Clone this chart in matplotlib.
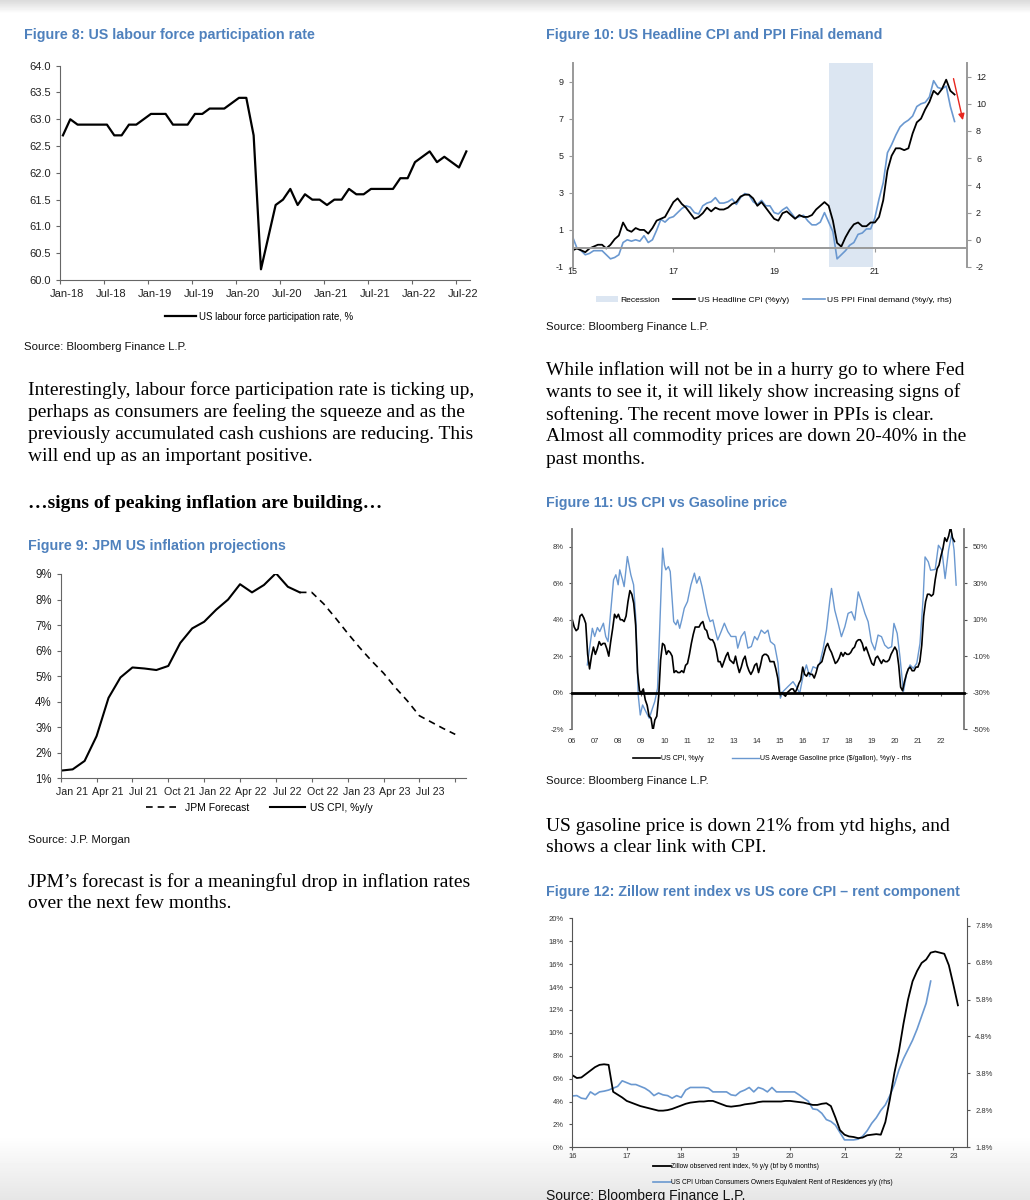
import numpy as np
import matplotlib
matplotlib.use('Agg')
import matplotlib.pyplot as plt
from matplotlib import font_manager
from matplotlib.lines import Line2D
from matplotlib.patches import Patch
from matplotlib.ticker import FormatStrFormatter
from matplotlib.transforms import ScaledTranslation

# ---------------- data ----------------
# Figure 8: labour force participation rate, monthly Jan-18 .. Aug-22
lfpr = [62.7, 63.0, 62.9, 62.9, 62.9, 62.9, 62.9, 62.7, 62.7, 62.9, 62.9, 63.0,
        63.1, 63.1, 63.1, 62.9, 62.9, 62.9, 63.1, 63.1, 63.2, 63.2, 63.2, 63.3,
        63.4, 63.4, 62.7, 60.2, 60.8, 61.4, 61.5, 61.7, 61.4, 61.6, 61.5, 61.5,
        61.4, 61.5, 61.5, 61.7, 61.6, 61.6, 61.7, 61.7, 61.7, 61.7, 61.9, 61.9,
        62.2, 62.3, 62.4, 62.2, 62.3, 62.2, 62.1, 62.4]
lfpr_ticklabels = ['Jan-18', 'Jul-18', 'Jan-19', 'Jul-19', 'Jan-20',
                   'Jul-20', 'Jan-21', 'Jul-21', 'Jan-22', 'Jul-22']

# Figure 10: headline CPI (lhs) and PPI final demand (rhs), monthly from Jan-15
cpi_15 = [-0.1, 0.0, -0.1, -0.2, 0.0, 0.1, 0.2, 0.2, 0.0, 0.2, 0.5, 0.7,
          1.4, 1.0, 0.9, 1.1, 1.0, 1.0, 0.8, 1.1, 1.5, 1.6, 1.7, 2.1,
          2.5, 2.7, 2.4, 2.2, 1.9, 1.6, 1.7, 1.9, 2.2, 2.0, 2.2, 2.1,
          2.1, 2.2, 2.4, 2.5, 2.8, 2.9, 2.9, 2.7, 2.3, 2.5, 2.2, 1.9,
          1.6, 1.5, 1.9, 2.0, 1.8, 1.6, 1.8, 1.7, 1.7, 1.8, 2.1, 2.3,
          2.5, 2.3, 1.5, 0.3, 0.1, 0.6, 1.0, 1.3, 1.4, 1.2, 1.2, 1.4,
          1.4, 1.7, 2.6, 4.2, 5.0, 5.4, 5.4, 5.3, 5.4, 6.2, 6.8, 7.0,
          7.5, 7.9, 8.5, 8.3, 8.6, 9.1, 8.5, 8.3]
ppi_15 = [0.2, -0.6, -0.8, -1.1, -1.0, -0.8, -0.8, -0.8, -1.1, -1.4, -1.3, -1.1,
          -0.2, 0.0, -0.1, 0.0, -0.1, 0.3, -0.2, 0.0, 0.7, 1.5, 1.3, 1.6,
          1.7, 2.0, 2.3, 2.5, 2.4, 2.0, 1.9, 2.5, 2.7, 2.8, 3.1, 2.7,
          2.7, 2.8, 3.0, 2.6, 3.1, 3.4, 3.3, 2.8, 2.6, 2.9, 2.5, 2.5,
          2.0, 1.9, 2.2, 2.4, 2.0, 1.6, 1.7, 1.8, 1.4, 1.1, 1.1, 1.3,
          2.0, 1.3, 0.6, -1.4, -1.1, -0.8, -0.4, -0.2, 0.4, 0.5, 0.8, 0.8,
          1.6, 3.0, 4.2, 6.4, 7.0, 7.7, 8.3, 8.6, 8.8, 9.1, 9.8, 10.0,
          10.1, 10.5, 11.7, 11.2, 11.1, 11.3, 9.8, 8.7]
recession = (2020.08, 2020.96)

# Figure 9: JPM US inflation projections (monthly index from chart start)
jpm_ticklabels = ['Jan 21', 'Apr 21', 'Jul 21', 'Oct 21', 'Jan 22', 'Apr 22',
                  'Jul 22', 'Oct 22', 'Jan 23', 'Apr 23', 'Jul 23']
cpi_actual = [1.3, 1.35, 1.68, 2.65, 4.15, 4.95, 5.34, 5.3, 5.24, 5.4, 6.3,
              6.87, 7.13, 7.6, 8.0, 8.6, 8.28, 8.57, 9.03, 8.5, 8.28]
jpm_forecast = [8.28, 8.28, 7.83, 7.27, 6.68, 6.12, 5.6, 5.12, 4.55, 4.03,
                3.45, 3.2, 2.95, 2.72]

# Figure 11: US CPI y/y monthly from Jan-06 (lhs) and gasoline y/y (rhs)
cpi_06 = [4.0, 3.6, 3.4, 3.5, 4.2, 4.3, 4.1, 3.8, 2.1, 1.3, 2.0, 2.5,
          2.1, 2.4, 2.8, 2.6, 2.7, 2.7, 2.4, 2.0, 2.8, 3.5, 4.3, 4.1,
          4.3, 4.0, 4.0, 3.9, 4.2, 5.0, 5.6, 5.4, 4.9, 3.7, 1.1, 0.1,
          0.0, 0.2, -0.4, -0.7, -1.3, -1.4, -2.1, -1.5, -1.3, -0.2, 1.8, 2.7,
          2.6, 2.1, 2.3, 2.2, 2.0, 1.1, 1.2, 1.1, 1.1, 1.2, 1.1, 1.5,
          1.6, 2.1, 2.7, 3.2, 3.6, 3.6, 3.6, 3.8, 3.9, 3.5, 3.4, 3.0,
          2.9, 2.9, 2.7, 2.3, 1.7, 1.7, 1.4, 1.7, 2.0, 2.2, 1.8, 1.7,
          1.6, 2.0, 1.5, 1.1, 1.4, 1.8, 2.0, 1.5, 1.2, 1.0, 1.2, 1.5,
          1.6, 1.1, 1.5, 2.0, 2.1, 2.1, 2.0, 1.7, 1.7, 1.7, 1.3, 0.8,
          -0.1, 0.0, -0.1, -0.2, 0.0, 0.1, 0.2, 0.2, 0.0, 0.2, 0.5, 0.7,
          1.4, 1.0, 0.9, 1.1, 1.0, 1.0, 0.8, 1.1, 1.5, 1.6, 1.7, 2.1,
          2.5, 2.7, 2.4, 2.2, 1.9, 1.6, 1.7, 1.9, 2.2, 2.0, 2.2, 2.1,
          2.1, 2.2, 2.4, 2.5, 2.8, 2.9, 2.9, 2.7, 2.3, 2.5, 2.2, 1.9,
          1.6, 1.5, 1.9, 2.0, 1.8, 1.6, 1.8, 1.7, 1.7, 1.8, 2.1, 2.3,
          2.5, 2.3, 1.5, 0.3, 0.1, 0.6, 1.0, 1.3, 1.4, 1.2, 1.2, 1.4,
          1.4, 1.7, 2.6, 4.2, 5.0, 5.4, 5.4, 5.3, 5.4, 6.2, 6.8, 7.0,
          7.5, 7.9, 8.5, 8.3, 8.6, 9.1, 8.5, 8.3]
gas_dates = [2006.65, 2006.87, 2006.97, 2007.09, 2007.19, 2007.35, 2007.45, 2007.55,
             2007.79, 2007.89, 2007.99, 2008.06, 2008.18, 2008.25, 2008.39, 2008.54,
             2008.66, 2008.76, 2008.86, 2008.95, 2009.05, 2009.19, 2009.34, 2009.48,
             2009.58, 2009.70, 2009.92, 2010.0, 2010.06, 2010.17, 2010.25, 2010.40,
             2010.5, 2010.57, 2010.66, 2010.75, 2010.86, 2011.0, 2011.15, 2011.3,
             2011.4, 2011.52, 2011.63, 2011.73, 2011.88, 2011.98, 2012.1, 2012.2,
             2012.31, 2012.46, 2012.6, 2012.75, 2012.89, 2013.1, 2013.18, 2013.33,
             2013.48, 2013.62, 2013.77, 2013.91, 2014.03, 2014.2, 2014.35, 2014.49,
             2014.6, 2014.78, 2014.93, 2015.03, 2015.14, 2015.36, 2015.58, 2015.72,
             2015.87, 2016.01, 2016.16, 2016.3, 2016.45, 2016.6, 2016.74, 2016.89,
             2017.03, 2017.18, 2017.25, 2017.39, 2017.54, 2017.68, 2017.83, 2017.97,
             2018.12, 2018.26, 2018.41, 2018.55, 2018.7, 2018.84, 2018.98, 2019.13,
             2019.27, 2019.42, 2019.56, 2019.71, 2019.86, 2019.96, 2020.1, 2020.22,
             2020.37, 2020.51, 2020.66, 2020.8, 2020.95, 2021.09, 2021.23, 2021.31,
             2021.45, 2021.55, 2021.75, 2021.89, 2022.04, 2022.18, 2022.33, 2022.47,
             2022.57, 2022.66]
gas_yoy = [-14.8, 5.3, 0.8, 5.7, 3.5, 8.1, 0.8, -2.0,
           31.9, 34.7, 29.2, 37.4, 31.9, 28.2, 44.7, 34.7,
           29.2, 10.0, -31.3, -42.3, -36.8, -40.4, -44.1, -38.6,
           -34.9, -27.6, 49.3, 40.1, 37.4, 39.2, 36.5, 9.0,
           7.2, 9.9, 5.3, 9.9, 16.3, 20.0, 29.2, 35.6,
           30.1, 33.7, 28.2, 21.8, 12.7, 9.0, 9.9, 4.4,
           -1.1, 3.5, 8.1, 3.5, 0.8, 0.8, -5.6, 0.8,
           3.5, -5.6, -4.7, 0.8, -1.1, 4.3, 2.5, 4.3,
           -2.0, -3.9, -13.9, -33.1, -29.5, -26.7, -24.0, -26.7,
           -30.4, -21.2, -14.8, -21.2, -15.8, -16.7, -13.9, -5.7,
           4.3, 20.8, 27.2, 15.3, 8.0, 0.7, 6.2, 13.5,
           14.4, 9.8, 25.3, 19.9, 13.5, 8.9, -2.1, -6.6,
           1.6, 0.7, -3.9, -5.7, -4.8, 8.0, 2.5, -10.3,
           -29.5, -19.4, -14.8, -16.7, -13.9, -3.0, 22.6, 44.5,
           41.8, 37.2, 37.6, 50.9, 48.2, 32.6, 48.2, 57.3,
           48.2, 29.0]

# Figure 12: Zillow rent (lhs, monthly from Jan-16) and OER (rhs, monthly from Jan-16)
zillow = [6.3, 6.05, 6.1, 6.4, 6.7, 7.0, 7.2, 7.25, 7.2, 4.85, 4.6, 4.35,
          4.05, 3.9, 3.75, 3.6, 3.5, 3.4, 3.3, 3.2, 3.2, 3.25, 3.35, 3.5,
          3.65, 3.8, 3.9, 3.95, 4.0, 4.0, 4.05, 4.05, 3.9, 3.75, 3.6, 3.55,
          3.6, 3.65, 3.75, 3.8, 3.85, 3.95, 4.0, 4.0, 4.0, 4.0, 4.0, 4.05,
          4.05, 4.0, 3.95, 3.9, 3.8, 3.7, 3.7, 3.8, 3.85, 3.6, 2.6, 1.5,
          1.1, 0.95, 0.9, 0.8, 0.85, 1.05, 1.1, 1.15, 1.1, 2.2, 4.2, 6.5,
          8.4, 10.8, 12.9, 14.5, 15.4, 16.1, 16.4, 17.0, 17.1, 17.0, 16.9, 15.9,
          14.2, 12.4]
oer = [3.19, 3.2, 3.13, 3.11, 3.3, 3.22, 3.3, 3.32, 3.35, 3.4, 3.45, 3.6,
       3.55, 3.5, 3.5, 3.45, 3.4, 3.32, 3.2, 3.27, 3.22, 3.2, 3.13, 3.2,
       3.15, 3.35, 3.42, 3.42, 3.42, 3.42, 3.4, 3.3, 3.3, 3.3, 3.3, 3.22,
       3.2, 3.3, 3.35, 3.42, 3.3, 3.42, 3.38, 3.3, 3.42, 3.3, 3.3, 3.3,
       3.3, 3.3, 3.22, 3.13, 3.05, 2.84, 2.82, 2.72, 2.55, 2.5, 2.4, 2.2,
       2.0, 2.0, 2.0, 2.02, 2.1, 2.25, 2.45, 2.6, 2.8, 2.95, 3.2, 3.5,
       3.9, 4.2, 4.45, 4.7, 5.0, 5.35, 5.7, 6.3]

# ---------------- layout helpers ----------------
W, H = 1030, 1200
fig = plt.figure(figsize=(W / 100, H / 100), dpi=100)

names = {f.name for f in font_manager.fontManager.ttflist}
NARROW = 'Liberation Sans Narrow' if 'Liberation Sans Narrow' in names else 'Liberation Sans'
SANS = 'Liberation Sans'
SERIF = 'Liberation Serif'
plt.rcParams['font.family'] = [SANS, 'DejaVu Sans']
plt.rcParams['axes.unicode_minus'] = False
TITLE_BLUE = '#4f81bd'
LINE_BLUE = '#6a98d0'


def axbox(l, t, r, b):
    return fig.add_axes([l / W, 1 - b / H, (r - l) / W, (b - t) / H])


def ftext(x, y, s, **kw):
    kw.setdefault('va', 'center')
    fig.text(x / W, 1 - y / H, s, **kw)


def shift_xlabels(ax, dx_px):
    off = ScaledTranslation(dx_px / 100, 0, fig.dpi_scale_trans)
    for lbl in ax.get_xticklabels():
        lbl.set_transform(lbl.get_transform() + off)


# page shading (top and bottom edge of the screenshot)
bg = fig.add_axes([0, 0, 1, 1], zorder=-10)
bg.axis('off')
shade = np.ones((H, 1))
shade[:14, 0] = np.linspace(0.86, 1.0, 14)
shade[1135:, 0] = np.linspace(1.0, 0.9, H - 1135)
bg.imshow(shade, cmap='gray', vmin=0, vmax=1, aspect='auto', extent=[0, 1, 0, 1])

# ---------------- texts ----------------
tkw = dict(color=TITLE_BLUE, fontweight='bold', family=NARROW, fontsize=10.3)
ftext(24, 35, 'Figure 8: US labour force participation rate', **tkw)
ftext(546, 35, 'Figure 10: US Headline CPI and PPI Final demand', **tkw)
ftext(28, 546, 'Figure 9: JPM US inflation projections', **tkw)
ftext(546, 503, 'Figure 11: US CPI vs Gasoline price', **tkw)
ftext(546, 892, 'Figure 12: Zillow rent index vs US core CPI \u2013 rent component', **tkw)

skw = dict(family=NARROW, fontsize=8.2, color='#111')
ftext(24, 347, 'Source: Bloomberg Finance L.P.', **skw)
ftext(546, 327, 'Source: Bloomberg Finance L.P.', **skw)
ftext(28, 840, 'Source: J.P. Morgan', **skw)
ftext(546, 781, 'Source: Bloomberg Finance L.P.', **skw)
ftext(546, 1189, 'Source: Bloomberg Finance L.P.', va='top', family=NARROW,
      fontsize=10, color='#111')

bkw = dict(family=SERIF, fontsize=14, color='black')
left_body = ['Interestingly, labour force participation rate is ticking up,',
             'perhaps as consumers are feeling the squeeze and as the',
             'previously accumulated cash cushions are reducing. This',
             'will end up as an important positive.']
for i, line in enumerate(left_body):
    ftext(28, 390 + i * 22.3, line, **bkw)
ftext(28, 503, '\u2026signs of peaking inflation are building\u2026',
      family=SERIF, fontsize=14, fontweight='bold')
right_body = ['While inflation will not be in a hurry go to where Fed',
              'wants to see it, it will likely show increasing signs of',
              'softening. The recent move lower in PPIs is clear.',
              'Almost all commodity prices are down 20-40% in the',
              'past months.']
for i, line in enumerate(right_body):
    ftext(546, 370 + i * 22.3, line, **bkw)
ftext(546, 826, 'US gasoline price is down 21% from ytd highs, and', **bkw)
ftext(546, 848, 'shows a clear link with CPI.', **bkw)
ftext(28, 882, 'JPM\u2019s forecast is for a meaningful drop in inflation rates', **bkw)
ftext(28, 904, 'over the next few months.', **bkw)

# ---------------- Figure 8 ----------------
ax8 = axbox(60, 65.7, 470, 280)
ax8.plot(np.arange(len(lfpr)), lfpr, color='black', lw=1.6)
ax8.set_ylim(60, 64)
ax8.set_yticks(np.arange(60, 64.01, 0.5))
ax8.yaxis.set_major_formatter(FormatStrFormatter('%.1f'))
ax8.set_xlim(-0.4, 55.5)
ax8.set_xticks(np.arange(0, 56, 6) - 0.4)
ax8.set_xticklabels(lfpr_ticklabels)
for s in ['top', 'right']:
    ax8.spines[s].set_visible(False)
for s in ['left', 'bottom']:
    ax8.spines[s].set_color('#666')
ax8.tick_params(labelsize=8, length=3, color='#666', labelcolor='#222')
shift_xlabels(ax8, 7)
ax8.legend(['US labour force participation rate, %'], loc='center',
           bbox_to_anchor=(0.485, -0.171), frameon=False, fontsize=6.9,
           handlelength=3.2, handletextpad=0.3)

# ---------------- Figure 10 ----------------
ax10 = axbox(572.7, 63, 967, 267)
ax10r = ax10.twinx()
ax10.set_zorder(ax10r.get_zorder() + 1)
ax10.patch.set_visible(False)
x10 = 2015 + np.arange(len(cpi_15)) / 12
ax10r.axvspan(recession[0], recession[1], color='#dce6f2', lw=0, zorder=0)
ax10r.plot(x10, ppi_15, color=LINE_BLUE, lw=1.2)
ax10.plot(x10, cpi_15, color='black', lw=1.3)
ax10.set_xlim(2015, 2022.83)
ax10.set_ylim(-1, 10)
ax10r.set_ylim(-2, 13)
ax10.set_yticks([-1, 1, 3, 5, 7, 9])
ax10r.set_yticks(range(-2, 13, 2))
ax10.set_xticks([2015, 2017, 2019, 2021])
ax10.set_xticklabels(['15', '17', '19', '21'])
ax10.spines['bottom'].set_position(('data', 0))
for a in (ax10, ax10r):
    a.spines['top'].set_visible(False)
    for s in a.spines.values():
        s.set_color('#999')
        s.set_linewidth(1.4)
ax10.spines['right'].set_visible(False)
ax10r.spines['bottom'].set_visible(False)
ax10r.spines['left'].set_visible(False)
ax10.tick_params(axis='both', labelsize=6.5, length=3, color='#999', labelcolor='#222')
ax10.tick_params(axis='x', pad=10)
ax10r.tick_params(labelsize=6.5, length=3, color='#999', labelcolor='#222')
ax10r.annotate('', xy=(2022.76, 8.6), xytext=(2022.55, 12.05),
               arrowprops=dict(arrowstyle='-|>', color='#e8261e', lw=1.0,
                               mutation_scale=9))
h10 = [Patch(facecolor='#dce6f2', edgecolor='none'),
       Line2D([], [], color='black', lw=1.3),
       Line2D([], [], color=LINE_BLUE, lw=1.2)]
ax10.legend(h10, ['Recession', 'US Headline CPI (%y/y)',
                  'US PPI Final demand (%y/y, rhs)'],
            loc='center', bbox_to_anchor=(0.51, -0.162), ncol=3, frameon=False,
            fontsize=6.1, handlelength=2.6, columnspacing=1.6, handleheight=0.8,
            handletextpad=0.3)

# ---------------- Figure 9 ----------------
ax9 = axbox(60.7, 574, 466, 778.3)
i_act = np.arange(len(cpi_actual))
i_fc = np.arange(len(jpm_forecast)) + len(cpi_actual) - 1
ax9.plot(i_fc, jpm_forecast, color='black', lw=1.2, dashes=(4, 3))
ax9.plot(i_act, cpi_actual, color='black', lw=1.5)
ax9.set_ylim(1, 9)
ax9.set_yticks(range(1, 10))
ax9.yaxis.set_major_formatter(FormatStrFormatter('%d%%'))
ax9.set_xlim(0, 33.9)
ax9.set_xticks(range(0, 34, 3))
ax9.set_xticklabels(jpm_ticklabels + [''])
for s in ['top', 'right']:
    ax9.spines[s].set_visible(False)
for s in ['left', 'bottom']:
    ax9.spines[s].set_color('#666')
ax9.tick_params(labelsize=8.3, length=3, color='#666', labelcolor='#222')
ax9.tick_params(axis='x', labelsize=7.7)
shift_xlabels(ax9, 11)
h9 = [Line2D([], [], color='black', lw=1.2, dashes=(4, 3)),
      Line2D([], [], color='black', lw=1.5)]
ax9.legend(h9, ['JPM Forecast', 'US CPI, %y/y'], loc='center',
           bbox_to_anchor=(0.49, -0.145), ncol=2, frameon=False, fontsize=7.5,
           handlelength=3.3, columnspacing=2, handletextpad=0.5)

# ---------------- Figure 11 ----------------
ax11 = axbox(572.3, 528.7, 964, 729)
ax11r = ax11.twinx()
ax11.set_zorder(ax11r.get_zorder() + 1)
ax11.patch.set_visible(False)
x11 = 2006 + np.arange(len(cpi_06)) / 12
ax11r.plot(gas_dates, gas_yoy, color=LINE_BLUE, lw=1.0)
ax11.plot(x11, cpi_06, color='black', lw=1.2)
ax11.set_xlim(2006, 2023)
ax11.set_ylim(-2, 9)
ax11r.set_ylim(-50, 60)
ax11.set_yticks(range(-2, 9, 2))
ax11.yaxis.set_major_formatter(FormatStrFormatter('%d%%'))
ax11r.set_yticks(range(-50, 51, 20))
ax11r.yaxis.set_major_formatter(FormatStrFormatter('%d%%'))
ax11.set_xticks(range(2006, 2023))
ax11.set_xticklabels(['%02d' % (y % 100) for y in range(2006, 2023)])
ax11.spines['bottom'].set_position(('data', 0))
ax11.spines['bottom'].set_color('black')
ax11.spines['bottom'].set_linewidth(2)
for a in (ax11, ax11r):
    a.spines['top'].set_visible(False)
ax11.spines['right'].set_visible(False)
ax11r.spines['left'].set_visible(False)
ax11r.spines['bottom'].set_visible(False)
ax11.spines['left'].set_color('#777')
ax11.spines['left'].set_linewidth(1.3)
ax11r.spines['right'].set_color('#777')
ax11r.spines['right'].set_linewidth(1.3)
ax11.tick_params(axis='both', labelsize=5.5, length=2.5, color='#555', labelcolor='#333')
ax11.tick_params(axis='x', pad=30)
ax11r.tick_params(labelsize=5.5, length=2.5, color='#555', labelcolor='#333')
h11 = [Line2D([], [], color='black', lw=1.2), Line2D([], [], color=LINE_BLUE, lw=1.0)]
ax11.legend(h11, ['US CPI, %y/y', 'US Average Gasoline price ($/gallon), %y/y - rhs'],
            loc='center', bbox_to_anchor=(0.51, -0.148), ncol=2, frameon=False,
            fontsize=5.0, handlelength=4, columnspacing=4, handletextpad=0.1)

# ---------------- Figure 12 ----------------
ax12 = axbox(572.3, 918.3, 967, 1147.3)
ax12r = ax12.twinx()
ax12.set_zorder(ax12r.get_zorder() + 1)
ax12.patch.set_visible(False)
x_z = 2016 + np.arange(len(zillow)) / 12
x_o = 2016 + np.arange(len(oer)) / 12
ax12r.plot(x_o, oer, color=LINE_BLUE, lw=1.2)
ax12.plot(x_z, zillow, color='black', lw=1.3)
ax12.set_xlim(2016, 2023.25)
ax12.set_ylim(0, 20)
ax12r.set_ylim(1.8, 8.0)
ax12.set_yticks(range(0, 21, 2))
ax12.yaxis.set_major_formatter(FormatStrFormatter('%d%%'))
ax12r.set_yticks(np.arange(1.8, 7.81, 1.0))
ax12r.yaxis.set_major_formatter(FormatStrFormatter('%.1f%%'))
ax12.set_xticks(range(2016, 2024))
ax12.set_xticklabels(['%02d' % (y % 100) for y in range(2016, 2024)])
for a in (ax12, ax12r):
    a.spines['top'].set_visible(False)
ax12.spines['right'].set_visible(False)
ax12r.spines['left'].set_visible(False)
ax12r.spines['bottom'].set_visible(False)
for s in [ax12.spines['left'], ax12.spines['bottom'], ax12r.spines['right']]:
    s.set_color('#555')
ax12.tick_params(axis='both', labelsize=5.5, length=2.5, color='#555', labelcolor='#333')
ax12.tick_params(axis='x', pad=1.5)
ax12r.tick_params(labelsize=5.5, length=2.5, color='#555', labelcolor='#333')
h12 = [Line2D([], [], color='black', lw=1.3), Line2D([], [], color=LINE_BLUE, lw=1.2)]
ax12.legend(h12, ['Zillow observed rent index, % y/y (bf by 6 months)',
                  'US CPI Urban Consumers Owners Equivalent Rent of Residences y/y (rhs)'],
            loc='upper left', bbox_to_anchor=(0.205, -0.07), frameon=False,
            fontsize=4.8, handlelength=2.6, handletextpad=0.1, labelspacing=1.3,
            borderaxespad=0, borderpad=0)

fig.savefig('out.png', dpi=100)
